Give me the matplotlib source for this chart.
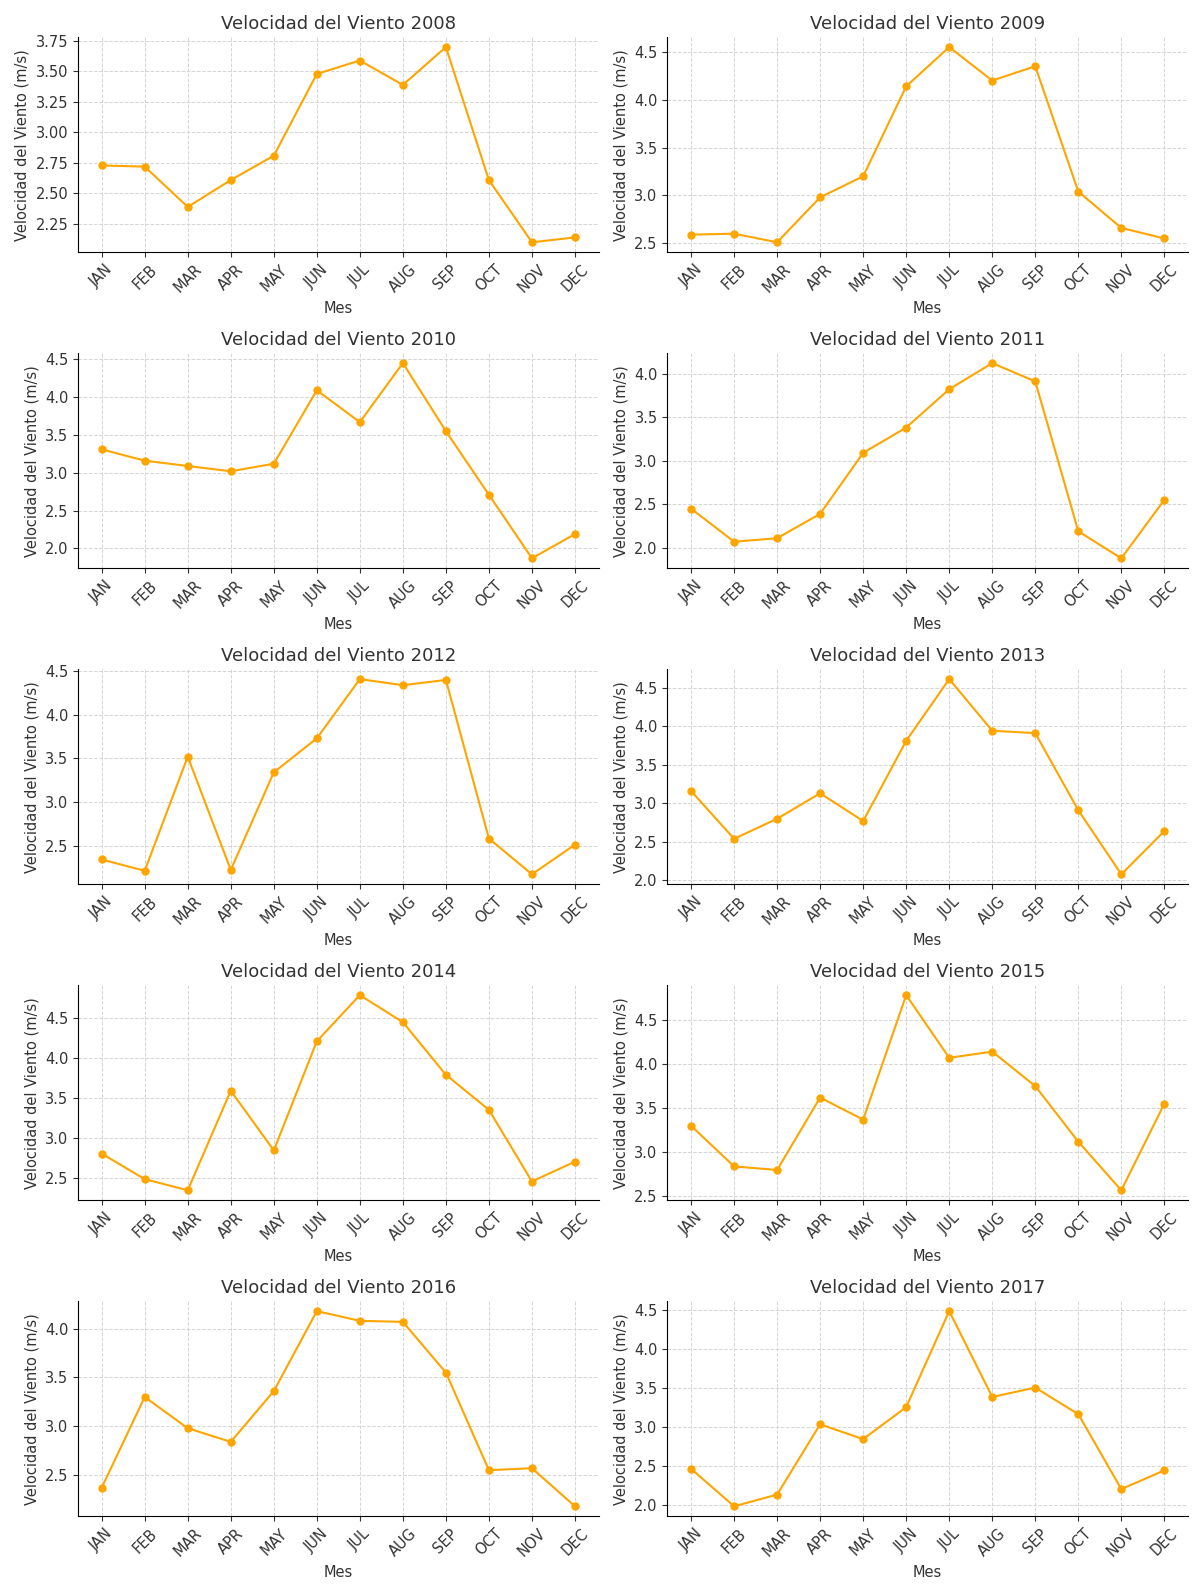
import numpy as np
import matplotlib.pyplot as plt
from matplotlib.ticker import MultipleLocator

# velocidad media mensual del viento (m/s)
meses = ['JAN', 'FEB', 'MAR', 'APR', 'MAY', 'JUN', 'JUL', 'AUG', 'SEP', 'OCT', 'NOV', 'DEC']

v2008 = [2.73, 2.72, 2.39, 2.61, 2.81, 3.48, 3.59, 3.39, 3.70, 2.61, 2.10, 2.14]
v2009 = [2.59, 2.60, 2.51, 2.98, 3.20, 4.14, 4.55, 4.20, 4.35, 3.04, 2.66, 2.55]
v2010 = [3.31, 3.16, 3.09, 3.02, 3.12, 4.09, 3.67, 4.45, 3.55, 2.71, 1.87, 2.19]
v2011 = [2.45, 2.07, 2.11, 2.39, 3.09, 3.38, 3.82, 4.12, 3.91, 2.19, 1.88, 2.55]
v2012 = [2.34, 2.21, 3.52, 2.22, 3.34, 3.73, 4.41, 4.34, 4.40, 2.58, 2.17, 2.51]
v2013 = [3.16, 2.54, 2.80, 3.13, 2.77, 3.81, 4.61, 3.94, 3.91, 2.91, 2.08, 2.64]
v2014 = [2.80, 2.48, 2.34, 3.59, 2.84, 4.21, 4.79, 4.45, 3.79, 3.35, 2.45, 2.70]
v2015 = [3.30, 2.84, 2.80, 3.62, 3.37, 4.78, 4.07, 4.14, 3.75, 3.12, 2.57, 3.55]
v2016 = [2.37, 3.30, 2.98, 2.84, 3.36, 4.18, 4.08, 4.07, 3.55, 2.55, 2.57, 2.18]
v2017 = [2.46, 1.98, 2.13, 3.03, 2.84, 3.25, 4.48, 3.38, 3.50, 3.16, 2.20, 2.44]

anios = [2008, 2009, 2010, 2011, 2012, 2013, 2014, 2015, 2016, 2017]
datos = [v2008, v2009, v2010, v2011, v2012, v2013, v2014, v2015, v2016, v2017]

fig, axes = plt.subplots(5, 2, figsize=(12.03, 15.95), dpi=100)

for ax, anio, v in zip(axes.flat, anios, datos):
    ax.plot(meses, v, marker='o', color='#FFA500', markersize=5, linewidth=1.5)
    ax.set_title(f'Velocidad del Viento {anio}', fontsize=13, color='#333333')
    ax.set_xlabel('Mes', fontsize=10.5, color='#333333')
    ax.set_ylabel('Velocidad del Viento (m/s)', fontsize=10.5, color='#333333')
    ax.tick_params(axis='x', rotation=45)
    ax.tick_params(labelsize=10.5, colors='#333333')
    ax.grid(True, linestyle='--', color='#d5d5d5', linewidth=0.7)
    ax.spines['top'].set_visible(False)
    ax.spines['right'].set_visible(False)
    if anio == 2008:
        ax.yaxis.set_major_locator(MultipleLocator(0.25))

plt.tight_layout()
plt.savefig('out.png', dpi=100)
